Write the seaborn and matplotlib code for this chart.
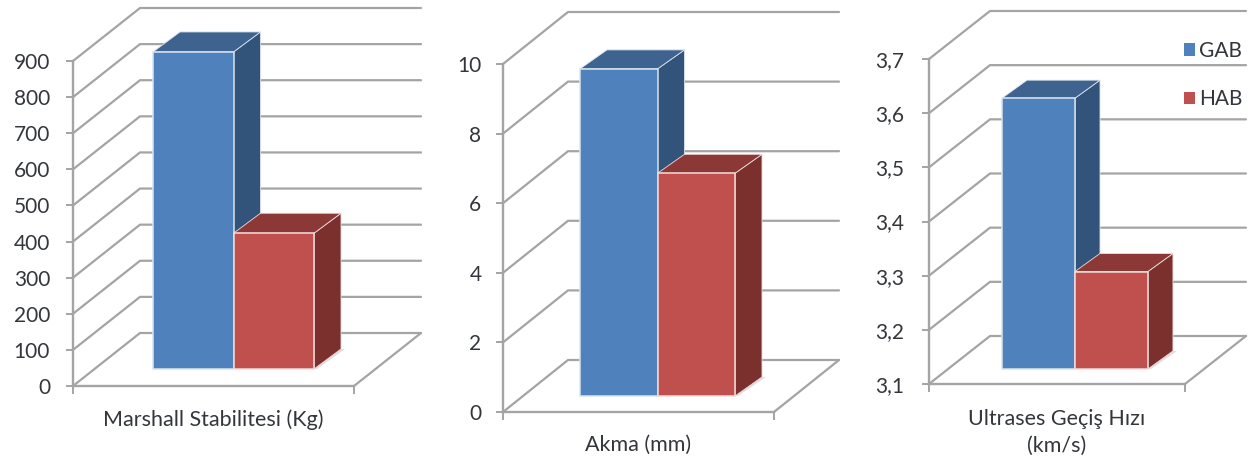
import matplotlib
matplotlib.use("Agg")
import matplotlib.pyplot as plt
import pandas as pd
import seaborn as sns
from matplotlib.patches import Polygon
from matplotlib.transforms import Affine2D, IdentityTransform

# ---- data ----
series = ["GAB", "HAB"]
marshall_values = [878, 376]
akma_values = [9.4, 6.4]
ultrases_values = [3.60, 3.28]
marshall_ticks = [0, 100, 200, 300, 400, 500, 600, 700, 800, 900]
akma_ticks = [0, 2, 4, 6, 8, 10]
ultrases_ticks = [3.1, 3.2, 3.3, 3.4, 3.5, 3.6, 3.7]
ultrases_tick_labels = ["3,1", "3,2", "3,3", "3,4", "3,5", "3,6", "3,7"]
titles = ["Marshall Stabilitesi (Kg)", "Akma (mm)", "Ultrases Geçiş Hızı\n(km/s)"]

W, H = 1258, 459
sns.set_theme(style="white")
plt.rcParams["font.family"] = ["Lato", "DejaVu Sans"]
GRID = "#a4a4a4"
TXT = "#33363b"
FRONT = ["#4f81bd", "#c0504d"]
TOP = ["#3f638f", "#8c3836"]
SIDE = ["#32537a", "#7c302e"]
EDGE = ["#dbe4f0", "#f0dcdb"]

fig = plt.figure(figsize=(W / 100, H / 100), dpi=100, facecolor="white")
ident = IdentityTransform()

# left, right, y-of-zero, y-of-top (image pixels), wall dx, dy, bar inset, bar depth, width, tick pad, label pad
panels = [
    (marshall_values, marshall_ticks, [str(t) for t in marshall_ticks], titles[0],
     73, 354, 386, 61, 67, 53, 20, 17, 27, 20, 0.573, 11.5, 8),
    (akma_values, akma_ticks, [str(t) for t in akma_ticks], titles[1],
     503, 774, 412, 64, 65, 52, 19, 16, 27, 19, 0.572, 10.5, 7.5),
    (ultrases_values, ultrases_ticks, ultrases_tick_labels, titles[2],
     929, 1185, 384, 59, 61, 48, 18, 15, 25, 18, 0.570, 13, 9),
]

for i, (vals, ticks, tlabels, title, xl, xr, y0, yt, wdx, wdy, idx, idy, bdx, bdy, bw, pad, lpad) in enumerate(panels):
    ax = fig.add_axes([xl / W, 1 - y0 / H, (xr - xl) / W, (y0 - yt) / H])
    df = pd.DataFrame({"cat": ["c", "c"], "seri": series, "deger": vals})
    sns.barplot(data=df, x="cat", y="deger", hue="seri", hue_order=series, palette=FRONT,
                width=bw, gap=0, dodge=True, saturation=1, ax=ax, legend=(i == 2), errorbar=None)
    ax.set_xlim(-0.5, 0.5)
    ax.set_ylim(ticks[0], ticks[-1])
    ax.set_yticks(ticks, tlabels)
    ax.set_xticks([-0.5, 0.5], ["", ""])
    ax.set_xlabel(title, fontsize=15.5, color=TXT, labelpad=lpad, linespacing=1.42)
    ax.set_ylabel("")
    ax.patch.set_alpha(0)
    for s in ["top", "right"]:
        ax.spines[s].set_visible(False)
    for s in ["left", "bottom"]:
        ax.spines[s].set_color(GRID)
        ax.spines[s].set_linewidth(1.7)
    ax.tick_params(axis="y", length=5, width=1.4, color=GRID, pad=pad, labelsize=15, labelcolor=TXT, left=True)
    ax.tick_params(axis="x", length=5.5, width=1.4, color=GRID, bottom=True)

    # gridlines: from the axis, back along the side wall, then across the back wall
    for t in ticks:
        a = ax.transData.transform((-0.5, t))
        b = a + (wdx, wdy)
        c = ax.transData.transform((0.5, t)) + (wdx, wdy)
        ax.plot([a[0], b[0], c[0]], [a[1], b[1], c[1]], color=GRID, lw=1.6, transform=ident,
                clip_on=False, zorder=1, solid_joinstyle="miter")
    # right edge of the floor
    a = ax.transData.transform((0.5, ticks[0]))
    ax.plot([a[0], a[0] + wdx], [a[1], a[1] + wdy], color=GRID, lw=1.6, transform=ident,
            clip_on=False, zorder=1)

    # bars: shift to their place on the floor and add the depth faces
    shift = Affine2D().translate(idx, idy)
    bars = [c[0] for c in ax.containers]
    for j, p in enumerate(bars):
        p.set_height(p.get_height() - ticks[0])
        p.set_y(ticks[0])
        p.set_transform(ax.transData + shift)
        p.set_clip_on(False)
        p.set_zorder(6)
        p.set_edgecolor(EDGE[j])
        p.set_linewidth(1.1)
        x0, x1 = p.get_x(), p.get_x() + p.get_width()
        top = p.get_y() + p.get_height()
        tl = ax.transData.transform((x0, top)) + (idx, idy)
        tr = ax.transData.transform((x1, top)) + (idx, idy)
        br = ax.transData.transform((x1, ticks[0])) + (idx, idy)
        bl = ax.transData.transform((x0, ticks[0])) + (idx, idy)
        d = (bdx, bdy)
        if j == len(bars) - 1:
            shadow = Polygon([bl + (-5, 0), br + (3, 0), br + d + (4, 0), br + d + (0, 0)],
                             closed=True, fc="#dedede", ec="none", transform=ident, clip_on=False, zorder=2)
            ax.add_patch(shadow)
        side = Polygon([tr, tr + d, br + d, br], closed=True, fc=SIDE[j], ec=EDGE[j], lw=0.6,
                       transform=ident, clip_on=False, zorder=3 + j)
        topf = Polygon([tl, tl + d, tr + d, tr], closed=True, fc=TOP[j], ec=EDGE[j], lw=0.6,
                       transform=ident, clip_on=False, zorder=3 + j)
        ax.add_patch(side)
        ax.add_patch(topf)

    if i == 2:
        handles, labels = ax.get_legend_handles_labels()
        ax.get_legend().remove()
        leg = fig.legend(handles, labels, loc="center left",
                         bbox_to_anchor=(1184 / W, 1 - 75 / H), frameon=False, fontsize=15,
                         handlelength=0.53, handleheight=0.53, handletextpad=0.2,
                         labelspacing=1.35, labelcolor=TXT, borderpad=0, borderaxespad=0)
        for h in leg.get_patches():
            h.set_edgecolor("none")

fig.savefig("out.png", dpi=100)
